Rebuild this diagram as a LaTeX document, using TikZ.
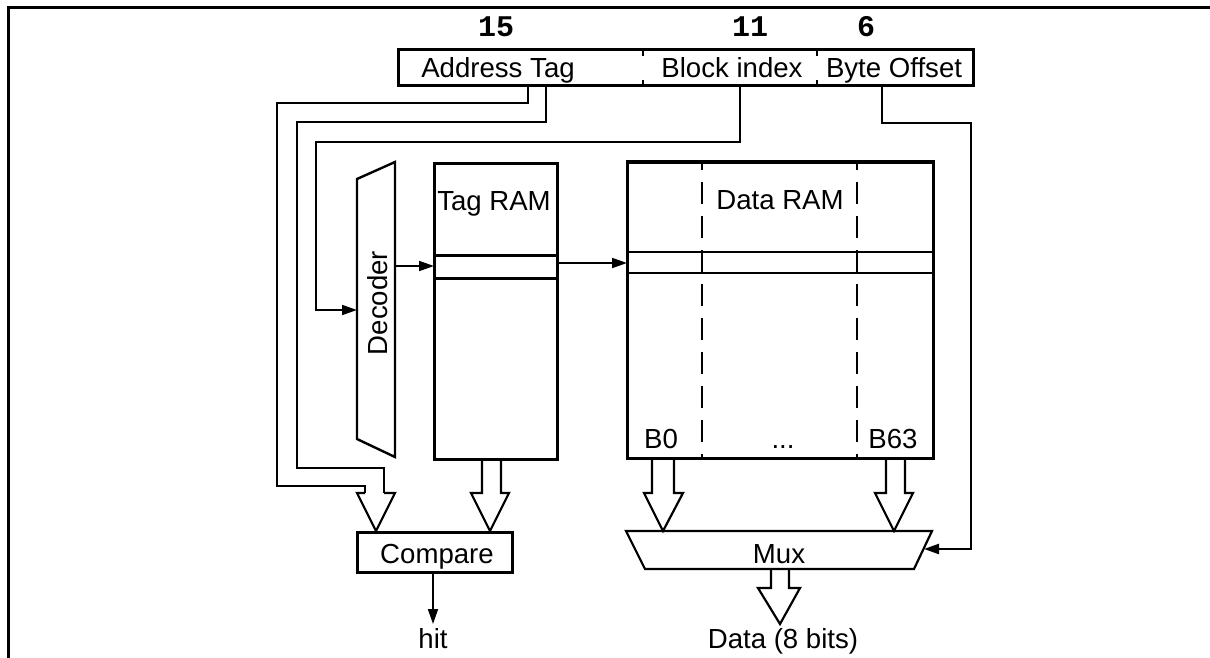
\documentclass[tikz,border=0pt]{standalone}
\usepackage{fontspec}
\setmainfont{Liberation Sans}
\newfontfamily\digitfont{Liberation Mono}
\usetikzlibrary{arrows.meta}
\begin{document}
\begin{tikzpicture}[x=0.5pt,y=-0.5pt,
  lbl/.style={inner sep=0pt, anchor=base, font=\fontsize{13.8}{16}\selectfont},
  num/.style={inner sep=0pt, anchor=base, font=\digitfont\bfseries\fontsize{15}{18}\selectfont},
  boxnode/.style={draw, line width=1.5pt, inner sep=0pt, outer sep=0pt, rectangle},
  hollow/.style={draw, line width=1.1pt, line join=miter},
  sig/.style={draw, line width=0.9pt, -{Triangle[length=7.5pt,width=5pt]}},
  sepline/.style={line width=0.8pt, dash pattern=on 3pt off 12pt},
  colline/.style={line width=1.1pt, dash pattern=on 11pt off 6pt, dash phase=7pt}
]
\useasboundingbox (0,0) rectangle (1210,658);
% frame
\draw[line width=1.5pt] (8,658) -- (8,8) -- (1210,8);

% address register
\node[boxnode, minimum width=287.5pt, minimum height=18pt] (addr) at (685.5,68) {};
\draw[sepline] (643,50) -- (643,86);
\draw[sepline] (817,50) -- (817,86);
\node[lbl] (tagf) at (498,78) {Address Tag};
\node[lbl] (idxf) at (732,78) {Block index};
\node[lbl] (offf) at (894,78) {Byte Offset};
\node[num] (n15) at (496,37) {15};
\node[num] (n11) at (750,37) {11};
\node[num] (n6) at (866,37) {6};

% tag RAM
\node[boxnode, minimum width=61.5pt, minimum height=148pt] (tagram) at (495.5,311) {};
\draw[line width=1.5pt] (434,255) -- (557,255);
\draw[line width=1.5pt] (434,278) -- (557,278);
\node[lbl] (tagt) at (494,210) {Tag RAM};

% data RAM
\node[boxnode, minimum width=153pt, minimum height=148pt] (dataram) at (780,310) {};
\draw[line width=1.3pt] (627,252) -- (933,252);
\draw[line width=1.3pt] (627,273) -- (933,273);
\draw[colline] (702,162) -- (702,458);
\draw[colline] (857,162) -- (857,458);
\node[lbl] (datat) at (780,209) {Data RAM};
\node[lbl] (b0) at (661,448) {B0};
\node[lbl] (b63) at (893,448) {B63};
\node[lbl] (dots) at (783,448) {...};

% decoder
\draw[line width=1.2pt] (357,179) -- (395,162) -- (395,457) -- (357,439) -- cycle;
\node[lbl, rotate=90] (dec) at (387,303) {Decoder};
\coordinate (decin) at (357,310);
\coordinate (decout) at (395,266);
\coordinate (tagrowin) at (434,266);
\draw[sig] (decout) -- (tagrowin);

% tag RAM row -> data RAM row
\coordinate (tagrowout) at (557,263);
\coordinate (datarowin) at (627,263);
\draw[sig] (tagrowout) -- (datarowin);

% compare
\node[boxnode, minimum width=77.5pt, minimum height=20pt] (cmp) at (434.5,552) {};
\node[lbl] (cmpt) at (437,563) {Compare};
\node[lbl] (hit) at (433,648) {hit};
\coordinate (cmpout) at (433,572);
\coordinate (hitin) at (433,624);
\draw[sig] (cmpout) -- (hitin);

% mux
\draw[line width=1.1pt] (626,531) -- (932,531) -- (914,569) -- (645,569) -- cycle;
\node[lbl] (muxt) at (779,563) {Mux};
\node[lbl] (dout) at (783,648) {Data (8 bits)};
\coordinate (muxsel) at (924,549);

% address tag wires -> compare (hollow arrow)
\coordinate (tagA) at (528,86);
\coordinate (tagB) at (546,86);
\draw[line width=1.3pt] (tagA) -- (528,103) -- (277,103) -- (277,486) -- (365,486) -- (365,493);
\draw[line width=1.1pt] (tagB) -- (546,122) -- (297,122) -- (297,468) -- (384,468) -- (384,493);
\draw[hollow] (365,493) -- (357,493) -- (376,531) -- (395,493) -- (384,493);

% block index -> decoder
\coordinate (idx) at (740,86);
\draw[sig] (idx) -- (740,142) -- (316,142) -- (316,310) -- (decin);

% byte offset -> mux select
\coordinate (off) at (882,86);
\draw[line width=1.2pt, -{Triangle[length=7.5pt,width=5pt]}] (off) -- (882,123) -- (971,123) -- (971,549) -- (muxsel);

% tag RAM -> compare
\draw[hollow] (482,459) -- (482,493) -- (471,493) -- (490,531) -- (509,493) -- (501,493) -- (501,459);
% B0 -> mux
\draw[hollow] (652,458) -- (652,493) -- (644,493) -- (663,531) -- (683,493) -- (674,493) -- (674,458);
% B63 -> mux
\draw[hollow] (886,458) -- (886,493) -- (875,493) -- (894,531) -- (913,493) -- (905,493) -- (905,458);
% mux -> data out
\draw[hollow] (771,569) -- (771,588) -- (758,588) -- (780,624) -- (800,588) -- (789,588) -- (789,569);
\end{tikzpicture}
\end{document}
